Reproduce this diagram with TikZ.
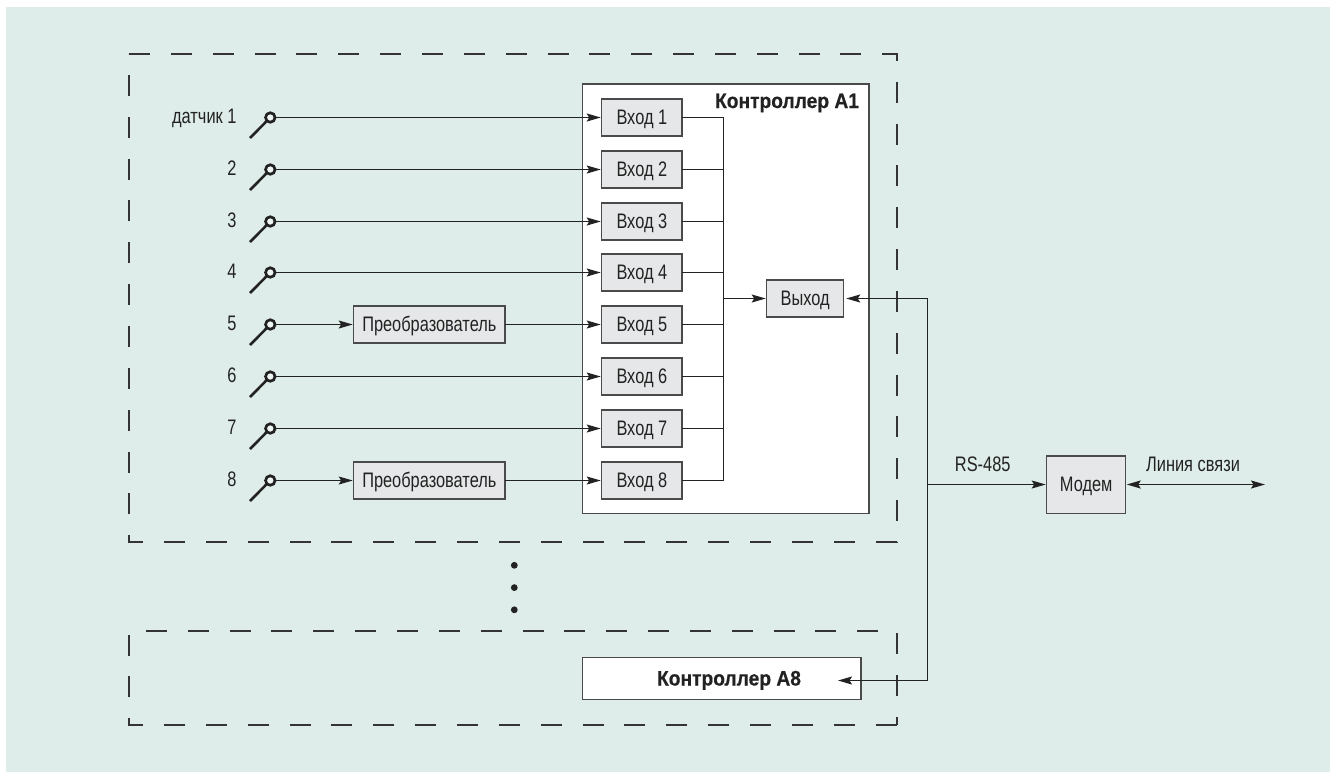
\documentclass[tikz,border=0pt]{standalone}
\usepackage{fontspec}
\setmainfont[FakeStretch=0.78,BoldFeatures={FakeStretch=0.915,FakeBold=0.5}]{Liberation Sans}
\usetikzlibrary{arrows.meta}
\definecolor{bgc}{HTML}{DEEDE9}
\definecolor{boxc}{HTML}{E6E7E8}
\definecolor{edgec}{HTML}{4A4A4A}
\definecolor{inkc}{HTML}{222222}
\tikzset{
  x=1pt,y=-1pt,
  lab/.style={font=\fontsize{21pt}{23pt}\selectfont,text=inkc,inner sep=0pt,outer sep=0pt},
  boldlab/.style={lab,font=\fontsize{21pt}{23pt}\selectfont\bfseries},
  graybox/.style={lab,draw=edgec,fill=boxc,line width=1.5pt,text height=14pt,text depth=0pt,align=center},
  inbox/.style={graybox,minimum width=80.3pt,minimum height=37pt},
  outbox/.style={graybox,minimum width=77pt,minimum height=37pt},
  convbox/.style={graybox,minimum width=151.3pt,minimum height=37pt},
  modembox/.style={graybox,minimum width=79pt,minimum height=57.5pt},
  ctrlbox/.style={draw=edgec,fill=white,line width=1.5pt,inner sep=0pt,outer sep=0pt},
  frameline/.style={draw=inkc!92,line width=2pt,dash pattern=on 21pt off 20.85pt},
  wire/.style={draw=inkc,line width=1.5pt},
  arr/.style={wire,-{Stealth[length=14pt,width=8pt,inset=2.5pt]},shorten >=1pt},
  biarr/.style={wire,{Stealth[length=14pt,width=8pt,inset=2.5pt]}-{Stealth[length=14pt,width=8pt,inset=2.5pt]},shorten <=1pt},
  sens/.style={circle,draw=inkc,fill=bgc!50!white,line width=2.7pt,minimum size=9.5pt,inner sep=0pt,outer sep=0pt},
  lever/.style={draw=inkc,line width=2.6pt},
  dotmark/.style={circle,fill=inkc,minimum size=6.8pt,inner sep=0pt,outer sep=0pt},
}
\begin{document}
\begin{tikzpicture}
\useasboundingbox (0,0) rectangle (1330,772);
\fill[bgc] (6,7) rectangle (1330,771.5);

% dashed groups
\draw[frameline] (129,54) -- (896.5,54) -- (896.5,542) -- (129,542) -- cycle;
\draw[frameline] (896.5,725) -- (129,725) -- (129,630.5) -- (896.5,630.5) -- cycle;

% controllers
\node[ctrlbox,minimum width=286.3pt,minimum height=429.7pt] (a1) at (725.85,298.85) {};
\node[boldlab,anchor=base east] (a1t) at (859,108) {Контроллер А1};
\node[ctrlbox,minimum width=278.3pt,minimum height=42pt] (a8) at (721.85,678.3) {};
\node[boldlab,anchor=base] (a8t) at (729,685.5) {Контроллер А8};

% output and modem
\node[outbox] (out) at (805.2,298.5) {Выход};
\node[modembox] (modem) at (1086.2,484.5) {Модем};
\coordinate (bus) at (723.5,298.5);
\coordinate (trunk) at (927.5,298.5);
\coordinate (tap) at (927.5,484.5);
\coordinate (a8in) at (837,680.5);
\coordinate (lineend) at (1265,484.5);

\foreach \i/\lbl/\y in {1/датчик 1/117.5,2/2/169.5,3/3/221.5,4/4/272.5,5/5/324.5,6/6/376.5,7/7/428.5,8/8/480.5}{
  \node[inbox] (in\i) at (641.85,\y) {Вход \i};
  \node[sens] (s\i) at (270.3,\y) {};
  \coordinate (e\i) at (250,\y+20.5);
  \draw[lever] (e\i) -- (s\i.south west);
  \node[lab,anchor=base east] (l\i) at (236.5,\y+5.5) {\lbl};
  \draw[wire] (in\i.east) -| (bus);
  \ifnum\i=5
    \node[convbox] (p\i) at (429.35,\y) {Преобразователь};
    \draw[arr] (s\i.east) -- (p\i.west);
    \draw[arr] (p\i.east) -- (in\i.west);
  \else\ifnum\i=8
    \node[convbox] (p\i) at (429.35,\y) {Преобразователь};
    \draw[arr] (s\i.east) -- (p\i.west);
    \draw[arr] (p\i.east) -- (in\i.west);
  \else
    \draw[arr] (s\i.east) -- (in\i.west);
  \fi\fi
}

\draw[arr] (bus) -- (out.west);
\draw[arr,shorten >=2.5pt] (trunk) -- (out.east);
\draw[wire] (trunk) -- (tap);
\draw[arr] (trunk) |- (a8in);
\draw[arr] (tap) -- (modem.west);
\draw[biarr] (modem.east) -- (lineend);

\node[lab,anchor=base] (rs) at (982.7,471) {RS-485};
\node[lab,anchor=base] (ls) at (1193,471) {Линия связи};

\node[dotmark] (d1) at (514.3,565.3) {};
\node[dotmark] (d2) at (514.3,587.6) {};
\node[dotmark] (d3) at (514.3,609.8) {};
\end{tikzpicture}
\end{document}
